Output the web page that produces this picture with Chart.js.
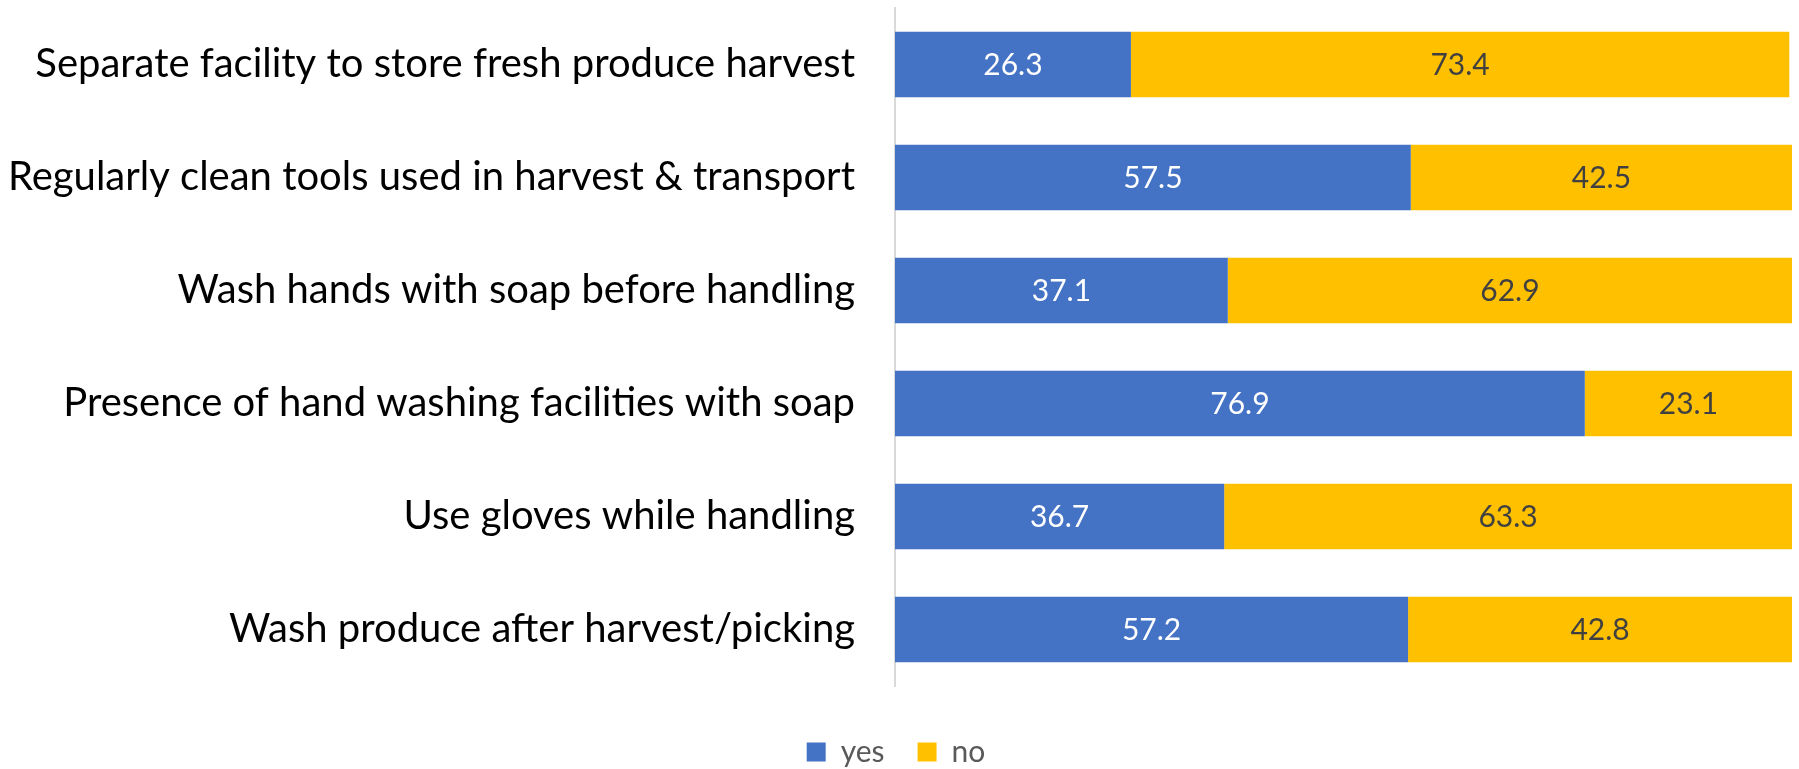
<!DOCTYPE html>
<html>
<head>
<meta charset="utf-8">
<script src="https://cdn.jsdelivr.net/npm/chart.js@4"></script>
<style>
  html, body { margin: 0; padding: 0; background: #fff; }
  #wrap { width: 1799px; height: 769px; }
</style>
</head>
<body>
<div id="wrap"><canvas id="practices" width="1799" height="769"></canvas></div>
<script>
const practices = [
  'Separate facility to store fresh produce harvest',
  'Regularly clean tools used in harvest & transport',
  'Wash hands with soap before handling',
  'Presence of hand washing facilities with soap',
  'Use gloves while handling',
  'Wash produce after harvest/picking'
]
const yesPct = [26.3, 57.5, 37.1, 76.9, 36.7, 57.2]
const noPct = [73.4, 42.5, 62.9, 23.1, 63.3, 42.8]

const labelFont = 'Lato, "Open Sans", sans-serif'

// writes each segment's value in the middle of its bar
const barValues = {
  id: 'barValues',
  afterDatasetsDraw(chart) {
    const ctx = chart.ctx
    ctx.save()
    ctx.font = '30px ' + labelFont
    ctx.textAlign = 'center'
    ctx.textBaseline = 'middle'
    chart.data.datasets.forEach((ds, i) => {
      chart.getDatasetMeta(i).data.forEach((bar, j) => {
        const p = bar.getProps(['x', 'y', 'base'], true)
        ctx.fillStyle = ds.valueColor
        ctx.fillText(ds.data[j].toFixed(1), (p.x + p.base) / 2, p.y + 1)
      })
    })
    ctx.restore()
  }
}

new Chart(document.getElementById('practices'), {
  type: 'bar',
  data: {
    labels: practices,
    datasets: [
      { label: 'yes', data: yesPct, backgroundColor: '#4472C4', valueColor: '#ffffff' },
      { label: 'no', data: noPct, backgroundColor: '#FFC000', valueColor: '#404040' }
    ]
  },
  options: {
    indexAxis: 'y',
    responsive: false,
    animation: false,
    devicePixelRatio: 1,
    categoryPercentage: 1,
    barPercentage: 0.58,
    layout: { padding: { top: 8, right: 7, bottom: -8, left: 0 } },
    plugins: {
      tooltip: { enabled: false },
      legend: {
        position: 'bottom',
        labels: {
          boxWidth: 19,
          boxHeight: 19,
          padding: 33,
          color: '#595959',
          font: { family: labelFont, size: 30 }
        }
      }
    },
    scales: {
      x: {
        stacked: true,
        min: 0,
        max: 100,
        grid: { display: false, drawTicks: false },
        border: { display: false },
        ticks: { display: false },
        afterFit: (scale) => { scale.height = 18 }
      },
      y: {
        stacked: true,
        grid: { display: false, drawTicks: true, tickLength: 40 },
        border: { display: true, color: '#d9d9d9', width: 2 },
        ticks: {
          autoSkip: false,
          padding: 0,
          color: '#000000',
          font: { family: labelFont, size: 40 }
        },
        afterFit: (scale) => {
          scale.width = 895
          // labels sit inside the category bands, no extra room above/below
          scale.paddingTop = 0
          scale.paddingBottom = 0
        }
      }
    }
  },
  plugins: [barValues]
})
</script>
</body>
</html>
